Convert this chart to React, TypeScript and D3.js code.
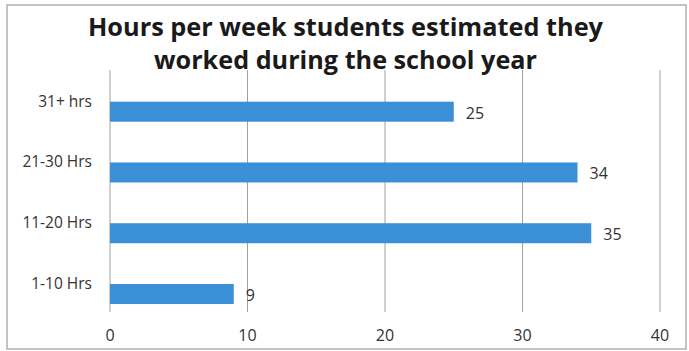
import React from "react";
import * as d3 from "d3";

const categories = ["31+ hrs", "21-30 Hrs", "11-20 Hrs", "1-10 Hrs"];
const values = [25, 34, 35, 9];
const xTicks = [0, 10, 20, 30, 40];
const titleLines = ["Hours per week students estimated they", "worked during the school year"];

export default function App() {
  const W = 689, H = 351;
  const x = d3.scaleLinear().domain([0, 40]).range([110, 660]);
  const y = d3.scalePoint<string>().domain(categories).range([111.7, 294]);
  const barH = 20;
  const font = "'Open Sans', 'Liberation Sans', sans-serif";
  const titleWidths = [515, 383];
  return (
    <svg width={W} height={H} style={{ position: "absolute", left: 0, top: 0, background: "#fff" }}>
      <rect x={7} y={5} width={679} height={344} fill="#fff" stroke="#b0b0b0" strokeWidth={1.5} />
      {titleLines.map((t, i) => (
        <text key={t} x={345.5} y={36 + i * 33} textAnchor="middle" fontFamily={font} fontWeight={700}
          fontSize={25} fill="#1a1a1a" textLength={titleWidths[i]} lengthAdjust="spacingAndGlyphs">{t}</text>
      ))}
      {xTicks.map((t) => (
        <g key={t}>
          <line x1={x(t)} x2={x(t)} y1={70} y2={312} stroke="#a0a0a0" strokeWidth={1} />
          <text x={x(t)} y={335} textAnchor="middle" dominantBaseline="central" fontFamily={font}
            fontSize={16} fill="#333">{t}</text>
        </g>
      ))}
      {categories.map((c, i) => {
        const cy = y(c)!;
        return (
          <g key={c}>
            <rect x={x(0)} y={cy - barH / 2} width={x(values[i]) - x(0)} height={barH} fill="#3b8fd6" />
            <text x={92} y={cy - 11} textAnchor="end" dominantBaseline="central" fontFamily={font}
              fontSize={15.5} fill="#333">{c}</text>
            <text x={x(values[i]) + 12} y={cy + 1} dominantBaseline="central" fontFamily={font}
              fontSize={16} fill="#333">{values[i]}</text>
          </g>
        );
      })}
    </svg>
  );
}
